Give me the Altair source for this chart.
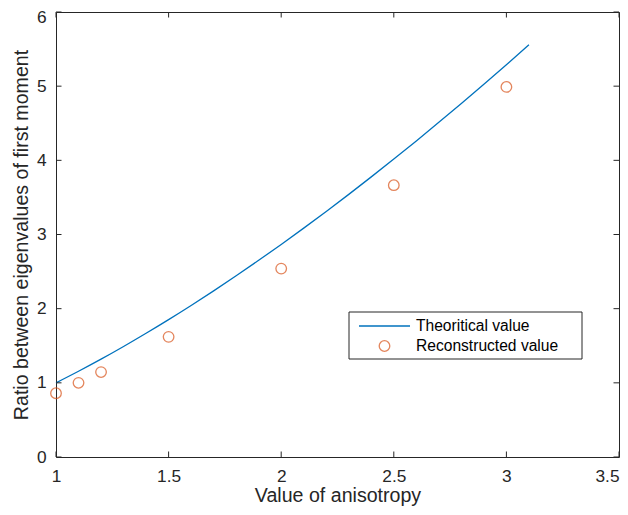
import altair as alt
import pandas as pd

# ---- data ----
theory_x = [1.0, 1.1, 1.2, 1.3, 1.4, 1.5, 1.6, 1.7, 1.8, 1.9, 2.0,
            2.1, 2.2, 2.3, 2.4, 2.5, 2.6, 2.7, 2.8, 2.9, 3.0, 3.1]
theory_y = [1.000, 1.156, 1.319, 1.490, 1.668, 1.852, 2.043, 2.240, 2.443, 2.652, 2.866,
            3.086, 3.311, 3.541, 3.777, 4.017, 4.262, 4.512, 4.766, 5.025, 5.289, 5.557]
recon_x = [1.0, 1.1, 1.2, 1.5, 2.0, 2.5, 3.0]
recon_y = [0.86, 1.00, 1.145, 1.62, 2.54, 3.665, 4.99]
x_ticks = [1, 1.5, 2, 2.5, 3, 3.5]
y_ticks = [0, 1, 2, 3, 4, 5, 6]
series_names = ["Theoritical value", "Reconstructed value"]

BLUE = "#0072BD"
ORANGE = "#D95319"
AX = "#262626"
FONT = "Liberation Sans"
W, H = 563, 445
TOP = 4

theory = pd.DataFrame({"x": theory_x, "y": theory_y})
recon = pd.DataFrame({"x": recon_x, "y": recon_y})
xt = pd.DataFrame({"x": x_ticks})
yt = pd.DataFrame({"y": y_ticks})

xs = alt.Scale(domain=[1, 3.5], nice=False, zero=False)
ys = alt.Scale(domain=[0, 6], nice=False, zero=False)

x_axis = alt.Axis(values=x_ticks, format="~g", title="Value of anisotropy", titlePadding=2.5,
                  labelPadding=10, labelFlush=False,
                  labelOffset={"condition": {"test": "datum.value >= 3.5", "value": -12},
                               "value": 0})
y_axis = alt.Axis(values=y_ticks, format="~g", title="Ratio between eigenvalues of first moment",
                  titlePadding=5, labelPadding=10, labelFlush=False,
                  labelOffset={"condition": {"test": "datum.value >= 6", "value": 5},
                               "value": 0})

X = alt.X("x:Q", scale=xs, axis=x_axis)
Y = alt.Y("y:Q", scale=ys, axis=y_axis)

line = alt.Chart(theory).mark_line(color=BLUE, strokeWidth=1.3, interpolate="monotone").encode(x=X, y=Y)
pts = alt.Chart(recon).mark_point(shape="circle", filled=False, color=ORANGE, size=112,
                                  strokeWidth=1.3).encode(x=X, y=Y)

TL = 5.5
tick_b = alt.Chart(xt).mark_rule(color=AX, strokeWidth=1).encode(
    x=X, y=alt.value(H), y2=alt.value(H - TL))
tick_t = alt.Chart(xt).mark_rule(color=AX, strokeWidth=1).encode(
    x=X, y=alt.value(0), y2=alt.value(TL))
tick_l = alt.Chart(yt).mark_rule(color=AX, strokeWidth=1).encode(
    y=Y, x=alt.value(0), x2=alt.value(TL))
tick_r = alt.Chart(yt).mark_rule(color=AX, strokeWidth=1).encode(
    y=Y, x=alt.value(W), x2=alt.value(W - TL))

# ---- legend box (inside plot, like MATLAB) ----
leg = pd.DataFrame({"name": series_names})
box = alt.Chart(leg.head(1)).mark_rect(fill="white", stroke=AX, strokeWidth=1).encode(
    x=alt.value(293), x2=alt.value(526), y=alt.value(300), y2=alt.value(347))
leg_line = alt.Chart(leg.head(1)).mark_rule(color=BLUE, strokeWidth=1.3).encode(
    x=alt.value(303), x2=alt.value(354), y=alt.value(314))
leg_pt = alt.Chart(leg.tail(1)).mark_point(shape="circle", filled=False, color=ORANGE, size=112,
                                          strokeWidth=1.3).encode(
    x=alt.value(328.5), y=alt.value(334))
leg_t1 = alt.Chart(leg.head(1)).mark_text(align="left", baseline="middle", font=FONT,
                                          fontSize=15.6, color="#000000").encode(
    x=alt.value(360), y=alt.value(314), text="name:N")
leg_t2 = alt.Chart(leg.tail(1)).mark_text(align="left", baseline="middle", font=FONT,
                                          fontSize=15.6, color="#000000").encode(
    x=alt.value(360), y=alt.value(334), text="name:N")

chart = alt.layer(line, pts, tick_b, tick_t, tick_l, tick_r,
                  box, leg_line, leg_pt, leg_t1, leg_t2).properties(
    width=W, height=H,
    autosize=alt.AutoSizeParams(type="none"),
    padding={"left": 48, "top": TOP, "right": 1, "bottom": 50},
    background="white",
).configure_view(stroke=AX, strokeWidth=1).configure_axis(
    ticks=False, domain=False, grid=False,
    labelFont=FONT, labelFontSize=17.3, labelColor=AX,
    titleFont=FONT, titleFontSize=19.6, titleFontWeight="normal", titleColor=AX,
)

chart.save("out.html", embed_options={"renderer": "svg", "actions": False})
